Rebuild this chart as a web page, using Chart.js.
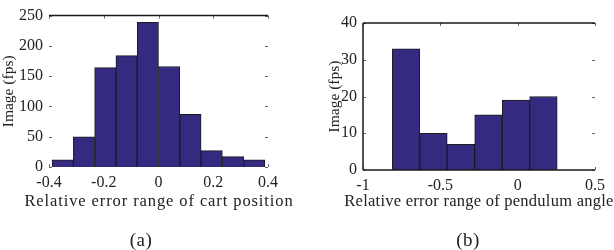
<!DOCTYPE html>
<html>
<head>
<meta charset="utf-8">
<script src="https://cdn.jsdelivr.net/npm/chart.js@4.4.1/dist/chart.umd.min.js"></script>
<style>
    body { margin: 0; background: #fff; width: 614px; height: 250px; position: relative; overflow: hidden;
           font-family: "Liberation Serif", serif; color: #222; }
    canvas { position: absolute; top: 0; }
    #cartCanvas { left: 0; }
    #angleCanvas { left: 326px; }
    .caption { position: absolute; font-size: 16.5px; line-height: 18px; letter-spacing: 0.9px; white-space: nowrap; transform: translateX(-50%); }
    .panel { position: absolute; font-size: 19px; line-height: 20px; letter-spacing: 0.5px; transform: translateX(-50%); }
</style>
</head>
<body>
<canvas id="cartCanvas" width="300" height="250"></canvas>
<canvas id="angleCanvas" width="288" height="250"></canvas>
<div class="caption" style="left:159px; top:192px;">Relative error range of cart position</div>
<div class="caption" style="left:479px; top:192px; letter-spacing:0.25px;">Relative error range of pendulum angle</div>
<div class="panel" style="left:141px; top:230px;">(a)</div>
<div class="panel" style="left:468px; top:230px;">(b)</div>

<script>
// (a) cart position error histogram
const cartBinCenters = [-0.35, -0.2722, -0.1944, -0.1167, -0.0389, 0.0389, 0.1167, 0.1944, 0.2722, 0.35];
const cartCounts = [12, 50, 164, 184, 239, 166, 87, 27, 17, 12];
const cartXTicks = [-0.4, -0.2, 0, 0.2, 0.4];
const cartXLabels = ['-0.4', '-0.2', '0', '0.2', '0.4'];
const cartYTicks = [0, 50, 100, 150, 200, 250];

// (b) pendulum angle error histogram
const angleBinCenters = [-0.7222, -0.5444, -0.3667, -0.1889, -0.0111, 0.1667];
const angleCounts = [33, 10, 7, 15, 19, 20];
const angleXTicks = [-1, -0.5, 0, 0.5];
const angleXLabels = ['-1', '-0.5', '0', '0.5'];
const angleYTicks = [0, 10, 20, 30, 40];

const barFill = '#342a80';
const tickFont = { family: '"Liberation Serif", serif', size: 16 };
const titleFont = { family: '"Liberation Serif", serif', size: 15.5 };

/* Draws the box lines and small inward tick marks like the original figure
*/
const frameLines = {
    id: 'frameLines',
    beforeDatasetsDraw(chart, args, opts) {
        const { ctx, chartArea: a, scales } = chart;
        ctx.save();
        ctx.strokeStyle = '#666';
        ctx.lineWidth = 1;
        ctx.beginPath();
        scales.x.ticks.forEach(t => {
            const px = Math.round(scales.x.getPixelForValue(t.value)) + 0.5;
            ctx.moveTo(px, a.top); ctx.lineTo(px, a.top + 3);
            ctx.moveTo(px, a.bottom); ctx.lineTo(px, a.bottom - 3);
        });
        scales.y.ticks.forEach(t => {
            const py = Math.round(scales.y.getPixelForValue(t.value)) + 0.5;
            ctx.moveTo(a.left, py); ctx.lineTo(a.left + 3, py);
            ctx.moveTo(a.right, py); ctx.lineTo(a.right - 3, py);
        });
        ctx.stroke();
        ctx.restore();
    },
    afterDatasetsDraw(chart, args, opts) {
        const { ctx, chartArea: a } = chart;
        ctx.save();
        ctx.strokeStyle = '#1a1a1a';
        ctx.lineWidth = 1.5;
        ctx.beginPath();
        (opts.sides || []).forEach(side => {
            if (side === 'top') { ctx.moveTo(a.left, a.top); ctx.lineTo(a.right, a.top); }
            if (side === 'bottom') { ctx.moveTo(a.left, a.bottom); ctx.lineTo(a.right, a.bottom); }
            if (side === 'left') { ctx.moveTo(a.left, a.top); ctx.lineTo(a.left, a.bottom); }
            if (side === 'right') { ctx.moveTo(a.right, a.top); ctx.lineTo(a.right, a.bottom); }
        });
        ctx.stroke();
        ctx.restore();
    }
};

/* Builds one histogram chart
*/
const buildHistogram = (canvasId, centers, counts, xTicks, xLabels, yTicks, opt) => {
    const config = {
        type: 'bar',
        data: {
            datasets: [{
                data: centers.map((c, i) => ({ x: c, y: counts[i] })),
                backgroundColor: barFill,
                borderColor: '#1c1c1c',
                borderWidth: 1,
                categoryPercentage: 1,
                barPercentage: 1
            }]
        },
        options: {
            responsive: false,
            animation: false,
            layout: { padding: { top: opt.top, right: opt.right, left: 0, bottom: 0 } },
            plugins: {
                legend: { display: false },
                tooltip: { enabled: false },
                frameLines: { sides: opt.sides }
            },
            scales: {
                x: {
                    type: 'linear',
                    offset: false,
                    min: xTicks[0],
                    max: xTicks[xTicks.length - 1],
                    grid: { display: false, drawTicks: false },
                    border: { display: false },
                    afterBuildTicks: scale => { scale.ticks = xTicks.map(v => ({ value: v })); },
                    afterFit: scale => { scale.height = 250 - opt.top - opt.plotHeight; },
                    ticks: {
                        font: tickFont,
                        color: '#222',
                        padding: 6,
                        maxRotation: 0,
                        autoSkip: false,
                        callback: (v) => xLabels[xTicks.indexOf(v)]
                    }
                },
                y: {
                    min: yTicks[0],
                    max: yTicks[yTicks.length - 1],
                    grid: { display: false, drawTicks: false },
                    border: { display: false },
                    afterBuildTicks: scale => { scale.ticks = yTicks.map(v => ({ value: v })); },
                    afterFit: scale => { scale.width = opt.yWidth; },
                    ticks: { font: tickFont, color: '#222', padding: 6 },
                    title: {
                        display: true,
                        text: 'Image (fps)',
                        font: titleFont,
                        color: '#222',
                        padding: { top: 0, bottom: 0 }
                    }
                }
            }
        },
        plugins: [frameLines]
    };
    const ctx = document.getElementById(canvasId).getContext('2d');
    return new Chart(ctx, config);
};

const init = () => {
    buildHistogram('cartCanvas', cartBinCenters, cartCounts, cartXTicks, cartXLabels, cartYTicks,
        { top: 4, right: 32, yWidth: 49, plotHeight: 163, sides: ['top'] });
    buildHistogram('angleCanvas', angleBinCenters, angleCounts, angleXTicks, angleXLabels, angleYTicks,
        { top: 23, right: 19, yWidth: 37, plotHeight: 147, sides: ['top', 'left', 'bottom'] });
};

document.addEventListener("DOMContentLoaded", () => {
    init();
});
</script>
</body>
</html>
